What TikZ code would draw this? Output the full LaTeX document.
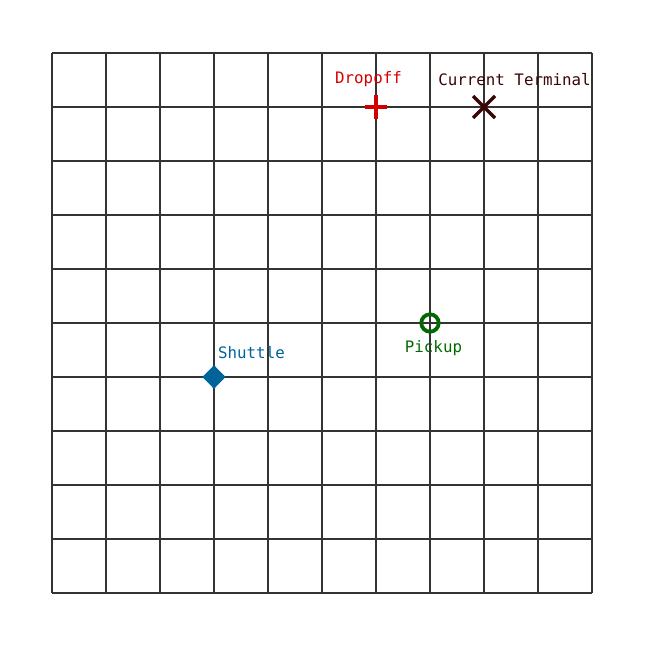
\documentclass[tikz,border=0pt]{standalone}
\usepackage{fontspec}
\setmonofont{DejaVu Sans Mono}
\definecolor{dropred}{HTML}{D40000}
\definecolor{termbrown}{HTML}{3A0505}
\definecolor{pickgreen}{HTML}{006A00}
\definecolor{shutblue}{HTML}{00639A}
\definecolor{gridgray}{HTML}{333333}
\begin{document}
\begin{tikzpicture}[x=1pt,y=-1pt,
  gridline/.style={draw=gridgray,line width=2.2pt},
  lbl/.style={inner sep=0pt,font=\ttfamily\fontsize{15.8}{17}\selectfont},
  mk/.style={line width=3.5pt}]
\useasboundingbox (0,0) rectangle (649,647);
\foreach \i in {0,...,10}{
  \draw[gridline] (52+54*\i,53) -- (52+54*\i,593);
  \draw[gridline] (52,53+54*\i) -- (592,53+54*\i);
}
% markers
\coordinate (drop) at (376,107);
\coordinate (term) at (484,107);
\coordinate (pick) at (430,323);
\coordinate (shut) at (214,377);
\draw[mk,dropred] ([xshift=-11pt]drop) -- ([xshift=11pt]drop);
\draw[mk,dropred] ([yshift=-12pt]drop) -- ([yshift=12pt]drop);
\draw[mk,termbrown] ([shift={(-11,-11)}]term) -- ([shift={(11,11)}]term);
\draw[mk,termbrown] ([shift={(-11,11)}]term) -- ([shift={(11,-11)}]term);
\draw[line width=3.8pt,pickgreen] (pick) circle[radius=8.7];
\fill[shutblue] ([xshift=-11.5pt]shut) -- ([yshift=-11.8pt]shut) -- ([xshift=11.5pt]shut) -- ([yshift=11.8pt]shut) -- cycle;
% labels
\node[lbl,text=dropred] (droplbl) at (368.5,79) {Dropoff};
\node[lbl,text=termbrown] (termlbl) at (514.5,80) {Current Terminal};
\node[lbl,text=pickgreen] (picklbl) at (433.5,348) {Pickup};
\node[lbl,text=shutblue,anchor=west] (shutlbl) at (218,353) {Shuttle};
\end{tikzpicture}
\end{document}
